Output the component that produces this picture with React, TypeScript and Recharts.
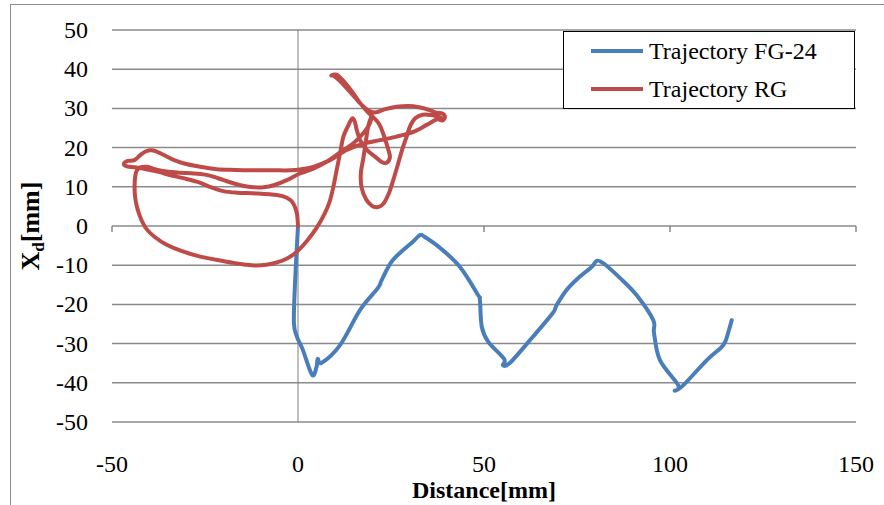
import { LineChart, Line, XAxis, YAxis, CartesianGrid, ReferenceLine, Legend } from 'recharts';

const FONT = '"Liberation Serif"';

const xTicks = [-50, 0, 50, 100, 150];
const yTicks = [-50, -40, -30, -20, -10, 0, 10, 20, 30, 40, 50];
const zeroLineMarks = [-50, 50, 100, 150];

// Trajectory FG-24 (distance, Xd) in mm
const fgDistance = [
  0, -0.8, -1.1, -0.3, 1.3, 3.8, 5.0, 5.3, 6.4, 11.3, 16.7, 21.5, 22.5, 25.5, 30.9, 32.8, 34.1, 38.2, 43.5,
  48.4, 48.9, 49.4, 51.1, 55.4, 55.1, 57.0, 63.2, 68.5, 69.5, 72.2, 75.3, 79.0, 80.3, 82.1, 86.6, 91.0,
  95.5, 95.7, 97.3, 102.2, 101.3, 103.6, 109.9, 114.3, 115.7, 116.6,
];
const fgXd = [
  0, -14.5, -24.7, -28.2, -31.6, -38, -35.9, -33.9, -34.9, -30.4, -21.4, -15.8, -13.8, -8.7, -4, -2.3, -2.8,
  -5.6, -10.4, -17.6, -18.9, -25.7, -29.5, -33.9, -35.5, -34.9, -28.2, -22.2, -20.2, -16.3, -13.3, -10.4,
  -8.9, -9.5, -13.3, -17.6, -24, -27.3, -34.2, -40.6, -42, -40.6, -34.2, -30.4, -27, -24,
];

// Trajectory RG (distance, Xd) in mm
const rgDistance = [
  0, -0.3, -1.3, -3, -5.7, -11.1, -16.5, -20.1, -23.7, -27.2, -30.8, -34.4, -37.5, -40.5, -43.5, -46,
  -46.8, -45.8, -44, -42.5, -41, -39.3, -37.1, -34.4, -30.8, -26.3, -21.9, -17, -12.9, -7, -2, 0.5, 4.1,
  8.6, 13.1, 17.6, 22, 26.5, 31, 34.6, 37.3,
  38.8, 39.5, 38.8, 37.2, 35.3,
  32.5, 29.7, 26.5, 23.5, 21, 19,
  16.5, 14, 11.5, 9.6, 9.0, 10.3, 12.2, 14.5, 16.5, 18.5, 20.4,
  21.8, 22.9, 24.3, 24.7, 23.8, 22.5,
  20.7, 18.5, 16.7, 15.8, 15.2, 14.5,
  13.6, 12.2, 11.3, 10.4, 9.5, 8.5, 7.2, 5, 2.5, -0.35, -2.8, -5.7, -8.5, -11.5, -14.5, -17.4, -22, -26.3,
  -31, -35.3, -38.5, -40.7, -42.2, -43.2, -43.8, -43.9, -43.5, -42.5,
  -40.5, -38.5, -35.3, -31.5, -28.1, -25, -22.8, -20, -17.4, -14.5, -12, -9.3, -6.5, -3, 0.5, 4.1, 8, 11.5,
  14.9, 17.3, 19, 19.7,
  19.6, 18.9, 18.3, 17.6, 16.9, 17.1, 18.3, 19.8, 21.3, 22.9, 24.4, 25.6, 26.8, 28, 29.2, 30.2, 31.5, 33.5,
  35.8, 37.8, 38.8,
];
const rgXd = [
  0, 3.2, 5.8, 7.2, 7.9, 8.3, 8.5, 8.9, 10, 11.3, 12.2, 13, 13.8, 14.4, 14.9, 15.2,
  15.8, 16.6, 16.8, 18, 19, 19.3, 18.6, 17.3, 16, 15.1, 14.5, 14.3, 14.2, 14.2, 14.2, 14.4, 15.1,
  16.8, 19.4, 21, 21.9, 22.8, 24, 25.8, 27.2,
  26.9, 27.8, 28.7, 28.9, 29.6,
  30.3, 30.6, 30.4, 29.8, 29, 29.4,
  31.5, 34.2, 36.8, 38.3, 38.4, 38.6, 37, 34.3, 31.6, 29.3, 27.6,
  26, 23.6, 19.4, 17.5, 16.1, 16.3,
  17.7, 19.4, 21.9, 24.5, 26.8, 27.4,
  25.8, 22.8, 18.5, 14.3, 10, 6.2, 3.2, -0.5, -3.7, -6.6, -8.2, -9.3, -9.9, -10.1, -9.8, -9.4, -8.6, -7.8,
  -6.5, -4.8, -2.8, -0.8, 1.8, 4.5, 7.5, 11, 13.8, 14.9,
  15.1, 14.5, 13.9, 13.6, 13.4, 13.1, 12.6, 11.7, 10.9, 10.2, 9.9, 9.9, 10.4, 11.7, 13.4, 14.6, 16.6, 18.9,
  21.1, 23.4, 25.6, 27.3,
  27.6, 25.5, 22, 17.5, 13.5, 9.8, 6.8, 5.2, 4.8, 5.6, 8.3, 11.7, 15.5, 19.5, 22.8, 25.6, 27.5, 28.4,
  28.3, 27.8, 27.4,
];

const toPoints = (xs: number[], ys: number[]) => xs.map((x, i) => ({ x, y: ys[i] }));
const fgData = toPoints(fgDistance, fgXd);
const rgData = toPoints(rgDistance, rgXd);

// smooth line through the points, like the spreadsheet's "smoothed line"
function smoothCurve(context: any) {
  let pts: [number, number][] = [];
  return {
    areaStart() {},
    areaEnd() {},
    lineStart() {
      pts = [];
    },
    point(x: number, y: number) {
      pts.push([+x, +y]);
    },
    lineEnd() {
      if (!pts.length) return;
      context.moveTo(pts[0][0], pts[0][1]);
      for (let i = 0; i < pts.length - 1; i++) {
        const p0 = pts[Math.max(0, i - 1)];
        const p1 = pts[i];
        const p2 = pts[i + 1];
        const p3 = pts[Math.min(pts.length - 1, i + 2)];
        context.bezierCurveTo(
          p1[0] + (p2[0] - p0[0]) / 6,
          p1[1] + (p2[1] - p0[1]) / 6,
          p2[0] - (p3[0] - p1[0]) / 6,
          p2[1] - (p3[1] - p1[1]) / 6,
          p2[0],
          p2[1],
        );
      }
    },
  };
}

function XTick({ x, y, payload }: any) {
  return (
    <text x={x} y={y + 50} textAnchor="middle" fontSize={24} fontFamily={FONT} fill="#000">
      {payload.value}
    </text>
  );
}

function YTick({ x, y, payload }: any) {
  return (
    <text x={x - 24} y={y + 8} textAnchor="end" fontSize={24} fontFamily={FONT} fill="#000">
      {payload.value}
    </text>
  );
}

function XTitle(props: any) {
  const vb = props.viewBox || { x: 112, y: 422, width: 744 };
  return (
    <text x={vb.x + vb.width / 2} y={vb.y + 76} textAnchor="middle" fontSize={24} fontWeight="bold" fontFamily={FONT} fill="#000">
      Distance[mm]
    </text>
  );
}

function YTitle(props: any) {
  const vb = props.viewBox || { x: 52, y: 30, height: 392 };
  const cx = vb.x - 13;
  const cy = vb.y + vb.height / 2;
  return (
    <text x={cx} y={cy} transform={`rotate(-90, ${cx}, ${cy})`} textAnchor="middle" fontSize={26} fontWeight="bold" fontFamily={FONT} fill="#000">
      <tspan>X</tspan>
      <tspan dy={5} fontSize={17}>d</tspan>
      <tspan dy={-5}>[mm]</tspan>
    </text>
  );
}

function LegendBox({ payload }: any) {
  return (
    <div style={{ width: 292, height: 78, border: '1.5px solid #000', background: '#fff', boxSizing: 'border-box' }}>
      {(payload || []).map((entry: any) => (
        <div key={entry.value} style={{ display: 'flex', alignItems: 'center', height: 38 }}>
          <span style={{ display: 'inline-block', width: 52, height: 4, background: entry.color, marginLeft: 27, marginRight: 6 }} />
          <span style={{ fontSize: 24, fontFamily: FONT, color: '#000', lineHeight: '24px' }}>{entry.value}</span>
        </div>
      ))}
    </div>
  );
}

export default function App() {
  return (
    <div style={{ position: 'absolute', left: 0, top: 0, width: 884, height: 505, background: '#fff', overflow: 'hidden' }}>
      <div style={{ position: 'absolute', left: 10, top: 4, width: 900, height: 520, borderLeft: '1.5px solid #8c8c8c', borderTop: '1.5px solid #8c8c8c' }} />
      <div style={{ position: 'absolute', left: 0, top: 0, fontFamily: FONT }}>
        <LineChart width={884} height={505} margin={{ top: 30, right: 28, bottom: 23, left: 52 }}>
          <CartesianGrid vertical={false} stroke="#8a8a8a" strokeWidth={1.5} />
          <XAxis
            type="number"
            dataKey="x"
            domain={[-50, 150]}
            ticks={xTicks}
            axisLine={false}
            tickLine={false}
            tickSize={0}
            tickMargin={0}
            height={60}
            tick={<XTick />}
            label={XTitle}
          />
          <YAxis
            type="number"
            domain={[-50, 50]}
            ticks={yTicks}
            axisLine={false}
            tickLine={false}
            tickSize={0}
            tickMargin={0}
            width={60}
            tick={<YTick />}
            label={YTitle}
          />
          <ReferenceLine x={0} stroke="#808080" strokeWidth={1} />
          {zeroLineMarks.map((t) => (
            <ReferenceLine
              key={t}
              segment={[{ x: t, y: 0 }, { x: t, y: -1.5 }]}
              stroke="#8a8a8a"
              strokeWidth={1.5}
              ifOverflow="visible"
            />
          ))}
          <Legend layout="vertical" align="center" verticalAlign="middle" content={LegendBox} wrapperStyle={{ left: 563, top: 31, width: 292, height: 78 }} />
          <Line
            data={fgData}
            dataKey="y"
            name="Trajectory FG-24"
            type={smoothCurve as any}
            stroke="#4A7EBB"
            strokeWidth={4}
            strokeLinejoin="round"
            strokeLinecap="round"
            dot={false}
            activeDot={false}
            isAnimationActive={false}
          />
          <Line
            data={rgData}
            dataKey="y"
            name="Trajectory RG"
            type={smoothCurve as any}
            stroke="#BE4B48"
            strokeWidth={4}
            strokeLinejoin="round"
            strokeLinecap="round"
            dot={false}
            activeDot={false}
            isAnimationActive={false}
          />
        </LineChart>
      </div>
    </div>
  );
}
